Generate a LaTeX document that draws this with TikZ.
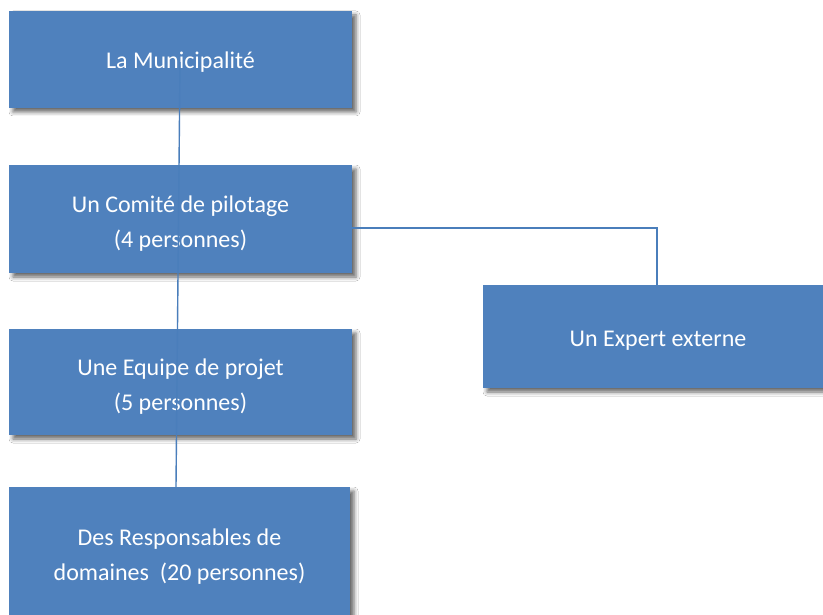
\documentclass[tikz,border=0pt]{standalone}
\usepackage{fontspec}
\setmainfont{Carlito}
\usetikzlibrary{shadows.blur}
\definecolor{boxblue}{HTML}{4F81BD}
\definecolor{lineblue}{HTML}{4A7EBB}
\begin{document}
\begin{tikzpicture}[x=1pt,y=-1pt,
  orgbox/.style={rectangle, fill=boxblue, draw=none, inner sep=0pt,
    blur shadow={shadow xshift=4pt, shadow yshift=-4pt, shadow blur radius=4pt, shadow opacity=60}},
  boxtext/.style={text=white, inner sep=0pt, align=center, font=\fontsize{24}{35}\selectfont},
  conn/.style={draw=lineblue, line width=1.4pt}]
\useasboundingbox (0,0) rectangle (823,615);
\fill[white] (0,0) rectangle (823,615);
\node[orgbox, minimum width=343pt, minimum height=97pt] (muni) at (180.5,59.5) {};
\node[orgbox, minimum width=343pt, minimum height=108pt] (comite) at (180.5,219) {};
\node[orgbox, minimum width=343pt, minimum height=106pt] (equipe) at (180.5,382) {};
\node[orgbox, minimum width=341pt, minimum height=146pt] (resp) at (179.5,560) {};
\node[orgbox, minimum width=350pt, minimum height=103pt] (expert) at (658,336.5) {};
\node[boxtext] (muniT) at ([yshift=-3pt]muni.center) {La Municipalité};
\node[boxtext] (comiteT) at ([yshift=-5pt]comite.center) {Un Comité de pilotage\\(4 personnes)};
\node[boxtext] (equipeT) at ([yshift=-5pt]equipe.center) {Une Equipe de projet\\(5 personnes)};
\node[boxtext] (respT) at ([yshift=3pt]resp.center) {Des Responsables de\\domaines\ \ (20 personnes)};
\node[boxtext] (expertT) at ([yshift=-4pt]expert.center) {Un Expert externe};
\coordinate (vtop) at (180,62);
\draw[conn] (vtop) -- ([xshift=-3.5pt]resp.north);
\draw[conn] ([yshift=-9pt]comite.east) -| ([xshift=-1pt]expert.north);
\end{tikzpicture}
\end{document}
